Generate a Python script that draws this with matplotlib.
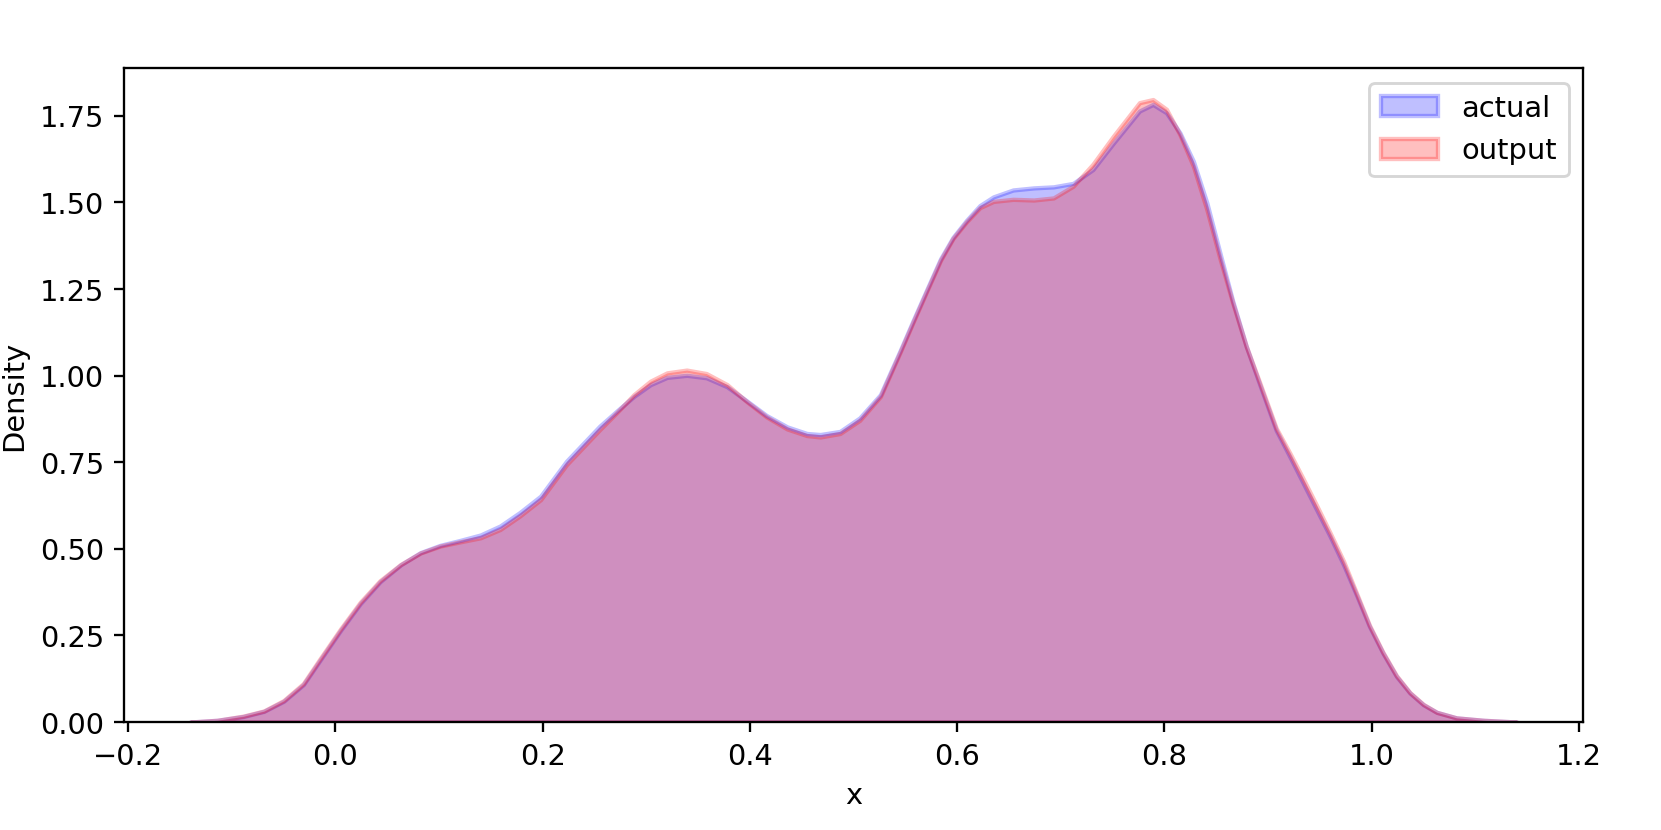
import matplotlib
matplotlib.use("Agg")
import matplotlib.pyplot as plt

# valores (densidad estimada)
x_vals = [-0.140, -0.114, -0.089, -0.069, -0.050, -0.031, -0.015, 0.005, 0.024, 0.043,
          0.063, 0.082, 0.101, 0.120, 0.140, 0.159, 0.178, 0.198, 0.223, 0.255,
          0.272, 0.288, 0.304, 0.320, 0.339, 0.358, 0.378, 0.397, 0.416, 0.436,
          0.455, 0.468, 0.487, 0.506, 0.526, 0.545, 0.558, 0.571, 0.584, 0.596,
          0.609, 0.622, 0.635, 0.654, 0.674, 0.693, 0.712, 0.731, 0.751, 0.776,
          0.789, 0.802, 0.815, 0.828, 0.841, 0.854, 0.866, 0.879, 0.892, 0.908,
          0.921, 0.934, 0.947, 0.960, 0.973, 0.986, 0.998, 1.011, 1.024, 1.037,
          1.050, 1.063, 1.082, 1.108, 1.140]

actual = [0.000, 0.005, 0.016, 0.031, 0.060, 0.108, 0.178, 0.265, 0.342, 0.405,
          0.454, 0.489, 0.510, 0.524, 0.540, 0.566, 0.605, 0.652, 0.753, 0.854,
          0.899, 0.940, 0.974, 0.995, 1.001, 0.994, 0.968, 0.927, 0.885, 0.852,
          0.833, 0.830, 0.839, 0.878, 0.945, 1.072, 1.162, 1.250, 1.337, 1.399,
          1.448, 1.491, 1.516, 1.536, 1.542, 1.545, 1.555, 1.595, 1.672, 1.764,
          1.783, 1.759, 1.701, 1.619, 1.499, 1.350, 1.215, 1.085, 0.975, 0.842,
          0.767, 0.690, 0.613, 0.536, 0.454, 0.363, 0.276, 0.199, 0.132, 0.084,
          0.050, 0.028, 0.012, 0.005, 0.000]

output = [0.000, 0.005, 0.017, 0.032, 0.062, 0.111, 0.182, 0.269, 0.346, 0.408,
          0.455, 0.488, 0.508, 0.520, 0.532, 0.556, 0.595, 0.642, 0.743, 0.844,
          0.895, 0.945, 0.984, 1.008, 1.016, 1.006, 0.974, 0.925, 0.881, 0.846,
          0.827, 0.823, 0.833, 0.871, 0.940, 1.068, 1.158, 1.246, 1.333, 1.396,
          1.444, 1.485, 1.503, 1.509, 1.507, 1.513, 1.547, 1.610, 1.692, 1.788,
          1.797, 1.769, 1.696, 1.605, 1.480, 1.335, 1.210, 1.085, 0.980, 0.848,
          0.777, 0.702, 0.625, 0.546, 0.464, 0.368, 0.279, 0.201, 0.134, 0.085,
          0.051, 0.028, 0.012, 0.005, 0.000]

fig, ax = plt.subplots(figsize=(8, 4), dpi=207.625)
fig.subplots_adjust(left=0.0747, right=0.953, top=0.917, bottom=0.13)

# rellenos tipo kdeplot (fill=True, alpha=0.25)
ax.fill_between(x_vals, actual, color="blue", alpha=0.25, linewidth=1.5, label="actual")
ax.fill_between(x_vals, output, color="red", alpha=0.25, linewidth=1.5, label="output")

ax.set_ylim(0, max(actual + output) * 1.05)
ax.set_xlabel("x")
ax.set_ylabel("Density")
ax.legend(loc="upper right")

fig.savefig("out.png", dpi=207.625)
